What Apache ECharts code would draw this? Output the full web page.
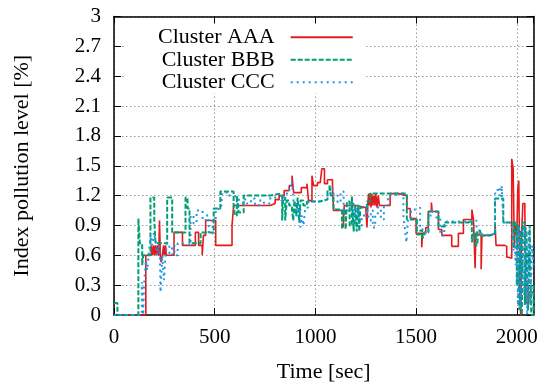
<!DOCTYPE html>
<html>
<head>
<meta charset="utf-8">
<script src="https://cdn.jsdelivr.net/npm/echarts@6/dist/echarts.min.js"></script>
<style>
html,body{margin:0;padding:0;background:#fff;}
#chart{width:551px;height:388px;}
</style>
</head>
<body>
<div id="chart"></div>
<script>
// ---- data (time in sec, index pollution level in %) ----
const seriesNames = ['Cluster AAA', 'Cluster BBB', 'Cluster CCC'];
const xTickLabels = [0, 500, 1000, 1500, 2000];
const yTickLabels = [0, 0.3, 0.6, 0.9, 1.2, 1.5, 1.8, 2.1, 2.4, 2.7, 3];

const aaaTime = [0,158,185,190,196,200,206,210,216,222,226,230,234,240,246,250,256,260,298,340,404,420,438,444,455,505,586,594,776,800,820,845,870,884,892,930,958,966,983,991,1010,1024,1032,1045,1060,1085,1090,1139,1143,1200,1250,1256,1260,1264,1268,1272,1276,1280,1285,1290,1296,1300,1306,1312,1318,1330,1371,1413,1454,1471,1500,1528,1532,1548,1561,1576,1580,1611,1628,1677,1710,1735,1777,1785,1793,1797,1801,1823,1827,1867,1892,1897,1940,1950,1960,1965,1975,1982,1988,1992,2000,2005,2010,2016,2020,2024,2030,2040,2046,2060,2083];
const aaaValue = [0,0.6,0.7,0.6,0.7,0.6,0.7,0.6,0.7,0.6,0.95,0.6,0.53,0.6,0.7,0.6,0.7,0.6,0.83,0.7,0.83,0.7,0.6,0.8,0.95,0.7,0.9,1.1,1.12,1.16,1.2,1.25,1.3,1.4,1.23,1.28,1.32,1.15,1.4,1.3,1.33,1.35,1.47,1.32,1.36,1.28,1.05,0.88,1.1,1.08,1.1,0.88,1.1,1.22,1.1,1.22,1.08,1.22,1.1,1.2,1.1,1.22,1.08,1.2,1.1,1.1,1.22,1.2,1.07,0.97,0.82,0.68,0.82,0.88,1.04,1.13,1.04,0.86,0.8,0.69,0.82,0.96,1.06,0.96,0.47,0.82,0.8,0.46,0.8,0.82,0.93,0.7,0.69,0.58,0.6,0.57,1.57,1.47,0.67,0.9,0.8,1.27,1.35,0.1,0,0.8,1.12,1.03,0.12,0.23,0.2];

const bbbTime = [0,17,121,128,140,145,181,200,206,264,289,355,365,375,430,495,528,594,600,610,619,644,776,825,835,840,850,858,870,884,890,896,905,912,920,926,940,958,974,1020,1060,1070,1076,1090,1132,1140,1150,1157,1170,1181,1190,1198,1205,1212,1218,1223,1256,1272,1388,1454,1471,1504,1520,1530,1540,1561,1600,1611,1644,1760,1777,1785,1795,1805,1818,1867,1892,1933,1983,1990,2000,2005,2012,2018,2025,2030,2040,2048,2056,2064,2072,2083];
const bbbValue = [0.12,0,0.97,0.72,0.5,0.6,1.18,0.95,0.72,1.18,0.83,1.18,1.07,0.72,0.83,1.07,1.24,1.1,1.0,1.2,1.03,1.2,1.22,1.2,0.95,1.18,0.95,1.15,1.1,1.05,0.95,1.15,1.0,1.18,0.93,1.15,1.1,1.14,1.14,1.16,1.26,1.31,1.2,1.06,0.86,1.06,0.86,1.14,0.9,1.19,0.84,1.1,0.84,1.1,0.84,1.08,1.14,1.22,1.22,0.96,0.96,0.81,0.85,0.78,0.83,1.04,1.04,0.89,0.93,0.95,0.73,0.82,0.7,0.85,0.8,0.82,1.17,0.93,0.67,0.93,0.3,0.9,0.05,0.85,0,0.93,0.1,0.85,0.05,0.9,0,0.3];

const cccTime = [0,138,145,150,158,165,172,181,190,198,206,214,222,228,231,240,248,256,264,275,288,300,316,340,380,395,410,440,455,470,490,505,520,535,560,594,620,640,660,680,700,720,745,776,810,830,850,870,884,892,905,915,925,932,941,950,965,1000,1030,1060,1075,1090,1110,1125,1140,1170,1190,1200,1215,1230,1256,1265,1275,1285,1297,1310,1325,1340,1360,1390,1420,1437,1445,1452,1460,1475,1500,1504,1520,1545,1561,1580,1600,1620,1640,1790,1800,1820,1867,1892,1905,1915,1925,1933,1975,1983,1990,1995,2000,2006,2012,2020,2028,2036,2044,2052,2060,2068,2076,2083];
const cccValue = [0,0.33,0,0.33,0.55,0.45,0.6,0.78,0.7,0.83,0.75,0.6,0.7,0.6,0.23,0.6,0.35,0.6,0.72,0.6,0.7,0.6,0.72,0.7,1.0,0.92,1.05,0.95,1.0,0.82,0.95,1.05,1.1,1.23,1.2,1.18,1.1,1.16,1.12,1.17,1.1,1.15,1.12,1.18,1.2,1.15,1.22,1.3,1.34,1.12,1.0,1.1,0.88,1.0,0.9,1.08,1.14,1.14,1.16,1.2,1.27,1.2,1.13,1.24,1.05,1.12,0.95,1.1,0.9,1.0,1.1,0.95,1.05,0.88,1.0,1.08,0.96,1.1,1.2,1.22,1.22,1.0,0.85,0.73,0.95,1.06,1.05,1.08,0.86,0.82,1.0,1.05,0.98,0.8,0.94,0.95,0.82,0.8,0.82,1.22,1.28,1.18,1.3,0.93,0.9,0.65,0.7,0.5,0.85,0.1,0.9,0.05,0.88,0.2,0.9,0,0.85,0.1,0.7,0.5];

function pairs(ts, vs) { return ts.map((t, i) => [t, vs[i]]); }

const FONT = '"Liberation Serif", "DejaVu Serif", serif';
const X_MAX = 2083;

const chart = echarts.init(document.getElementById('chart'), null, {renderer: 'canvas'});

const gridLine = {show: true, lineStyle: {color: '#9a9a9a', type: [1.5, 2.5], width: 1}};
const frameLine = {show: true, onZero: false, lineStyle: {color: '#000', width: 1.5}};
const inTick = {show: true, inside: true, length: 7, lineStyle: {color: '#000', width: 1}};

chart.setOption({
  animation: false,
  backgroundColor: '#fff',
  grid: {left: 114, right: 17.5, top: 16.5, bottom: 72, containLabel: false},
  legend: {
    orient: 'vertical',
    left: 126, top: 24,
    align: 'right',
    itemWidth: 62, itemHeight: 14, itemGap: 0,
    padding: [2, 11, 0, 32],
    backgroundColor: '#fff',
    itemStyle: {opacity: 0},
    textStyle: {fontFamily: FONT, fontSize: 22, lineHeight: 22.5, color: '#000', padding: [0, 11, 0, 0]},
    data: seriesNames
  },
  xAxis: [{
    type: 'value', min: 0, max: X_MAX, interval: 500,
    name: 'Time [sec]', nameLocation: 'middle', nameGap: 46,
    nameTextStyle: {fontFamily: FONT, fontSize: 22, color: '#000'},
    axisLine: frameLine, axisTick: inTick,
    axisLabel: {fontFamily: FONT, fontSize: 21, color: '#000', margin: 12, showMaxLabel: false,
      formatter: v => (xTickLabels.indexOf(v) >= 0 ? String(v) : '')},
    splitLine: gridLine
  }, {
    type: 'value', position: 'top', min: 0, max: X_MAX, interval: 500,
    axisLine: frameLine, axisTick: inTick,
    axisLabel: {show: false}, splitLine: {show: false}
  }],
  yAxis: [{
    type: 'value', min: 0, max: 3, interval: 0.3,
    name: 'Index pollution level [%]', nameLocation: 'middle', nameGap: 81,
    nameTextStyle: {fontFamily: FONT, fontSize: 22, color: '#000'},
    axisLine: frameLine, axisTick: inTick,
    axisLabel: {fontFamily: FONT, fontSize: 21, color: '#000', margin: 13,
      formatter: v => { const r = Math.round(v * 10) / 10; return yTickLabels.indexOf(r) >= 0 ? String(r) : ''; }},
    splitLine: gridLine
  }, {
    type: 'value', position: 'right', min: 0, max: 3, interval: 0.3,
    axisLine: frameLine, axisTick: inTick,
    axisLabel: {show: false}, splitLine: {show: false}
  }],
  series: [
    {name: seriesNames[0], type: 'line', step: 'end', showSymbol: false, symbol: 'none',
     data: pairs(aaaTime, aaaValue), z: 3,
     lineStyle: {color: '#e41a1c', width: 1.6}, itemStyle: {color: '#e41a1c'}},
    {name: seriesNames[1], type: 'line', step: 'end', showSymbol: false, symbol: 'none',
     data: pairs(bbbTime, bbbValue), z: 4,
     lineStyle: {color: '#009e73', width: 2, type: [5, 2]}, itemStyle: {color: '#009e73'}},
    {name: seriesNames[2], type: 'line', step: 'end', showSymbol: false, symbol: 'none',
     data: pairs(cccTime, cccValue), z: 5,
     lineStyle: {color: '#1e96e6', width: 2, type: [2, 4]}, itemStyle: {color: '#1e96e6'}}
  ]
});
</script>
</body>
</html>
